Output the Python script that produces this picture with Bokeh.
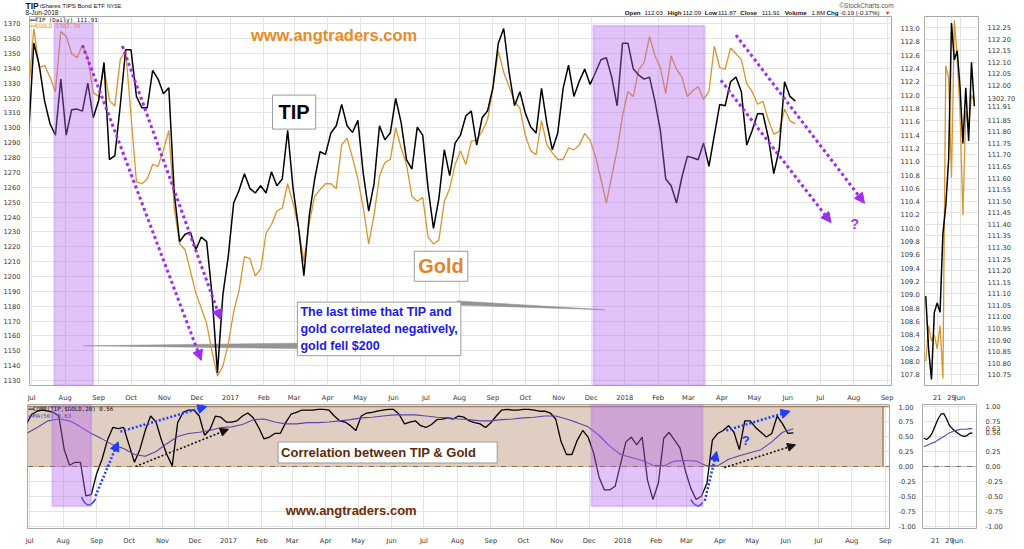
import pandas as pd
from bokeh.plotting import figure
from bokeh.models import (Range1d, LinearAxis, FixedTicker, BoxAnnotation, Label, Arrow,
                          NormalHead, Span, PrintfTickFormatter)
from bokeh.layouts import column, row
from bokeh.embed import file_html
from bokeh.resources import INLINE

# ---------------- data ----------------
START = "2016-06-28"          # first sample, then every 5 calendar days up to 8-Jun-2018
tip_close = [
    111.36, 112.78, 112.45, 111.91, 111.57, 111.40, 112.24, 111.40, 111.78, 111.79,
    111.76, 112.18, 111.66, 111.92, 112.49, 111.03, 111.09, 111.84, 112.68, 112.68,
    111.98, 111.81, 111.81, 112.37, 112.24, 112.02, 112.11, 110.53, 109.80, 109.91,
    109.94, 109.68, 109.87, 109.80, 109.00, 107.83, 109.00, 109.58, 110.38, 110.57,
    110.82, 110.60, 110.53, 110.64, 110.53, 110.85, 110.64, 110.74, 111.47, 110.60,
    110.02, 109.29, 110.19, 110.74, 111.15, 111.11, 111.43, 111.54, 111.86, 111.54,
    111.44, 111.62, 110.82, 110.26, 110.67, 111.54, 111.33, 111.43, 111.95, 111.59,
    111.03, 110.89, 111.52, 111.40, 110.60, 110.00, 110.45, 111.18, 110.79, 111.28,
    111.40, 111.69, 111.76, 111.25, 111.66, 111.76, 112.11, 112.78, 113.00, 112.34,
    111.84, 112.05, 111.73, 111.52, 111.43, 112.10, 111.57, 111.18, 111.43, 112.10,
    112.45, 111.98, 112.21, 112.39, 112.16, 112.34, 112.53, 112.56, 112.27, 111.84,
    112.78, 112.78, 112.39, 112.30, 112.24, 112.27, 111.91, 111.47, 110.74, 110.64,
    110.38, 110.77, 111.08, 111.06, 111.03, 111.28, 110.93, 111.40, 111.86, 111.84,
    112.20, 112.27, 112.05, 111.25, 111.47, 111.72, 111.72, 111.36, 110.82, 111.18,
    112.20, 111.98, 111.91]
gold_close = [
    1323.0, 1366.7, 1340.6, 1342.0, 1334.1, 1324.3, 1364.8, 1361.5, 1349.8, 1347.2,
    1355.6, 1347.2, 1323.7, 1321.1, 1340.6, 1318.5, 1314.6, 1345.9, 1352.4, 1308.0,
    1263.7, 1262.4, 1265.6, 1275.4, 1274.1, 1285.2, 1298.2, 1246.1, 1221.9, 1218.0,
    1203.7, 1188.7, 1178.9, 1168.4, 1149.5, 1133.0, 1139.7, 1154.7, 1176.3, 1190.6,
    1213.4, 1212.1, 1200.4, 1204.9, 1229.1, 1235.0, 1244.1, 1246.1, 1262.4, 1249.3,
    1233.0, 1210.2, 1236.3, 1253.9, 1258.5, 1262.4, 1262.4, 1259.1, 1288.5, 1293.0,
    1280.0, 1265.6, 1246.1, 1221.9, 1241.5, 1267.6, 1276.7, 1278.7, 1300.2, 1286.5,
    1275.4, 1253.9, 1250.6, 1253.2, 1226.5, 1221.9, 1224.5, 1250.6, 1259.1, 1275.4,
    1284.5, 1275.4, 1291.1, 1291.7, 1297.6, 1305.4, 1326.3, 1351.7, 1337.4, 1327.6,
    1317.8, 1313.2, 1295.0, 1284.5, 1281.9, 1304.8, 1288.5, 1283.2, 1278.7, 1278.7,
    1286.5, 1285.2, 1288.5, 1296.3, 1291.7, 1280.6, 1265.6, 1249.3, 1267.6, 1285.2,
    1308.0, 1324.3, 1321.1, 1339.3, 1343.9, 1361.5, 1348.5, 1340.6, 1323.0, 1348.5,
    1339.3, 1334.1, 1321.1, 1325.0, 1327.6, 1319.1, 1324.3, 1355.0, 1340.6, 1339.3,
    1353.7, 1349.8, 1345.9, 1329.6, 1324.3, 1315.9, 1317.8, 1305.4, 1295.6, 1297.6,
    1312.6, 1304.8, 1302.7]
corr_20 = [
    0.71, 0.87, 0.92, 0.94, 0.92, 0.90, 0.84, 0.28, 0.02, 0.07,
    0.07, -0.49, -0.47, -0.12, 0.12, 0.44, 0.65, 0.63, 0.65, 0.36,
    0.07, 0.28, 0.60, 0.84, 0.74, 0.44, 0.20, 0.01, 0.73, 0.90,
    0.94, 0.94, 0.84, 0.52, 0.62, 0.84, 0.82, 0.74, 0.74, 0.76,
    0.84, 0.89, 0.81, 0.65, 0.46, 0.49, 0.55, 0.55, 0.73, 0.87,
    0.90, 0.94, 0.94, 0.94, 0.95, 0.95, 0.94, 0.84, 0.76, 0.74,
    0.68, 0.60, 0.84, 0.89, 0.90, 0.92, 0.94, 0.95, 0.95, 0.87,
    0.71, 0.74, 0.76, 0.68, 0.65, 0.70, 0.78, 0.79, 0.81, 0.79,
    0.84, 0.82, 0.76, 0.73, 0.71, 0.65, 0.73, 0.84, 0.94, 0.95,
    0.94, 0.94, 0.95, 0.95, 0.94, 0.92, 0.92, 0.89, 0.79, 0.41,
    0.20, 0.20, 0.44, 0.60, 0.49, 0.23, -0.17, -0.39, -0.39, -0.33,
    0.04, 0.41, 0.49, 0.36, 0.49, -0.23, -0.55, -0.28, 0.47, 0.57,
    0.44, 0.31, -0.07, -0.36, -0.55, -0.49, -0.28, 0.44, 0.55, 0.60,
    0.68, 0.57, 0.28, 0.76, 0.76, 0.65, 0.57, 0.49, 0.55, 0.84,
    0.71, 0.55, 0.56]
ma_50 = [                      # every 10 calendar days from START
    0.55, 0.65, 0.76, 0.79, 0.76, 0.66, 0.55, 0.46, 0.36, 0.30,
    0.20, 0.17, 0.25, 0.38, 0.50, 0.55, 0.57, 0.60, 0.65, 0.66,
    0.70, 0.78, 0.79, 0.74, 0.71, 0.71, 0.73, 0.73, 0.74, 0.76,
    0.78, 0.81, 0.82, 0.84, 0.86, 0.86, 0.86, 0.84, 0.82, 0.81,
    0.79, 0.78, 0.76, 0.76, 0.78, 0.79, 0.81, 0.82, 0.84, 0.84,
    0.79, 0.73, 0.66, 0.52, 0.34, 0.20, 0.15, 0.10, 0.02, 0.01,
    0.09, 0.10, 0.09, 0.01, 0.01, 0.12, 0.18, 0.23, 0.28, 0.41,
    0.57, 0.63]

# last trading days (15-May-2018 .. 8-Jun-2018), small right-hand panels
recent_tip = [111.09, 110.86, 110.73, 111.02, 111.06, 111.02, 111.36, 111.48, 111.68,
              112.27, 112.11, 112.15, 111.99, 111.75, 111.99, 111.76, 112.10, 111.91]
recent_gold = [1286.0, 1288.3, 1287.3, 1287.7, 1286.8, 1288.3, 1284.9, 1305.0, 1304.2,
               1297.8, 1307.9, 1305.6, 1301.9, 1295.4, 1302.1, 1301.0, 1303.1, 1302.7]
recent_corr = [0.47, 0.45, 0.49, 0.56, 0.68, 0.79, 0.87, 0.88, 0.79,
               0.68, 0.63, 0.59, 0.55, 0.52, 0.50, 0.51, 0.55, 0.56]
recent_ma = [0.33, 0.35, 0.37, 0.39, 0.41, 0.44, 0.47, 0.50, 0.53,
             0.56, 0.58, 0.60, 0.61, 0.62, 0.62, 0.62, 0.63, 0.63]
recent_tick_labels = {4: "21", 9: "29", 12: "Jun"}

gold_ticks = list(range(1130, 1371, 10))
tip_ticks = [round(107.8 + 0.2 * i, 1) for i in range(27)]
corr_ticks = [round(-1 + 0.25 * i, 2) for i in range(9)]
recent_tip_ticks = [round(110.75 + 0.05 * i, 2) for i in range(31)]

# header texts: (text, bold)
quote_line = [("Open", True), ("112.03", False), ("High", True), ("112.09", False),
              ("Low", True), ("111.87", False), ("Close", True), ("111.91", False),
              ("Volume", True), ("1.8M", False), ("Chg", True), ("-0.19 (-0.17%)", False)]

assert len(tip_close) == len(gold_close) == len(corr_20) == 143

# ---------------- annotations ----------------
shades = [("2016-07-22", "2016-08-27", 1370.6), ("2017-12-03", "2018-03-16", 1368.7)]
shade_corr_bottom = -0.66
purple_arrows = [("2016-08-17", 1355.6, "2016-12-05", 1143.6),
                 ("2016-09-23", 1355.0, "2016-12-23", 1171.0),
                 ("2018-04-14", 1362.4, "2018-08-11", 1249.3),
                 ("2018-03-31", 1332.0, "2018-07-11", 1236.3)]
blue_arrows = [("2016-08-31", -0.49, "2016-09-21", 0.41),
               ("2016-09-23", 0.58, "2016-12-12", 1.0),
               ("2018-03-18", -0.57, "2018-03-29", 0.25),
               ("2018-04-07", 0.60, "2018-06-05", 0.92)]
black_arrows = [("2016-10-07", 0.0, "2017-01-01", 0.62),
                ("2018-04-05", -0.02, "2018-06-10", 0.36)]
smiles = [("2016-08-18", -0.51, "2016-08-31", -0.54, "2016-08-24", -0.755),
          ("2018-03-05", -0.547, "2018-03-16", -0.60, "2018-03-11", -0.733)]
pointers = [[("2016-08-18", 1153.4), ("2017-03-04", 1155.2), ("2017-03-04", 1151.6)],
            [("2017-12-14", 1177.6), ("2017-07-30", 1183.6), ("2017-07-30", 1180.8)]]
quote_x = [624.3, 644.0, 667.3, 682.2, 704.3, 717.6, 739.7, 761.3, 784.2, 810.9, 826.1, 839.5]


def ts(s):
    return float(pd.Timestamp(s).value // 10**6)


x5 = [ts(d) for d in pd.date_range(START, periods=len(tip_close), freq="5D")]
x10 = [ts(d) for d in pd.date_range(START, periods=len(ma_50), freq="10D")]
recent_x = list(range(len(recent_tip)))

month_starts = pd.date_range("2016-07-01", "2018-09-01", freq="MS")
month_ticks = [int(ts(d)) for d in month_starts]
month_labels = {int(ts(d)): (str(d.year) if d.month == 1 else d.strftime("%b")) for d in month_starts}

FONT = "DejaVu Sans"
BFONT = "Liberation Sans"
GRID = "#e3e3e3"
GOLD_C = "#D8952A"
TIP_C = "#000000"
MA_C = "#5a44b0"
PURPLE = "#9d2bf0"
BLUE = "#1f3cff"
TICK_SIZE = "6.7px"


def base_fig(**kw):
    p = figure(output_backend="svg", toolbar_location=None, **kw)
    p.outline_line_color = "#a8a8a8"
    p.background_fill_color = "white"
    p.border_fill_color = "white"
    p.xgrid.grid_line_color = GRID
    p.ygrid.grid_line_color = GRID
    return p


def style_axis(ax, standoff=3):
    ax.major_label_text_font = FONT
    ax.major_label_text_font_size = TICK_SIZE
    ax.major_label_text_color = "#333333"
    ax.axis_line_color = None
    ax.major_tick_line_color = None
    ax.minor_tick_line_color = None
    ax.major_label_standoff = standoff


def date_axis(p):
    ax = p.xaxis[0]
    ax.ticker = FixedTicker(ticks=month_ticks)
    ax.major_label_overrides = month_labels
    style_axis(ax, 2)
    p.xgrid.ticker = FixedTicker(ticks=month_ticks)


# ---------------- header strip ----------------
head = figure(width=1006, height=16, x_range=Range1d(0, 1006), y_range=Range1d(16, 0),
              output_backend="svg", toolbar_location=None, min_border=0)
head.axis.visible = False
head.grid.visible = False
head.outline_line_color = None
head.background_fill_color = "white"
head.border_fill_color = "white"


def htext(x, y, text, size="6.2px", bold=False, color="#111111", font=BFONT):
    head.add_layout(Label(x=x, y=y, text=text, text_font=font, text_font_size=size,
                          text_font_style="bold" if bold else "normal", text_color=color,
                          text_baseline="middle", text_align="left"))


htext(25, 5.0, "TIP", "8.5px", True)
htext(39.5, 5.2, "iShares TIPS Bond ETF", "6.1px")
htext(106.5, 5.4, "NYSE", "5.2px")
htext(25, 12.4, "8-Jun-2018", "6.5px")
htext(838.8, 4.8, "\u00a9StockCharts.com", "6.5px", color="#555555")
for xq, (txt, b) in zip(quote_x, quote_line):
    htext(xq, 12.4, txt, bold=b)
htext(885.5, 12.4, "\u25be", "6.5px", color="#c0392b", font=FONT)

xr = Range1d(ts("2016-06-29"), ts("2018-09-05"))

# ---------------- main price panel ----------------
main = base_fig(frame_width=862, frame_height=369, x_range=xr, y_range=Range1d(1126.7, 1374.9),
                min_border_left=27, min_border_right=31, min_border_top=0, min_border_bottom=11)
main.extra_y_ranges = {"tip": Range1d(107.64, 113.18)}
left_ax = main.yaxis[0]
left_ax.ticker = FixedTicker(ticks=gold_ticks)
left_ax.formatter = PrintfTickFormatter(format="%d")
style_axis(left_ax)
tip_ax = LinearAxis(y_range_name="tip", ticker=FixedTicker(ticks=tip_ticks),
                    formatter=PrintfTickFormatter(format="%.1f"))
style_axis(tip_ax)
main.add_layout(tip_ax, "right")
main.ygrid.ticker = FixedTicker(ticks=gold_ticks)
date_axis(main)

# callout pointers (under the box)
main.patches([[ts(a) for a, _ in pt] for pt in pointers], [[b for _, b in pt] for pt in pointers],
             fill_color="#8a8a8a", line_color="#8a8a8a", line_width=0.5, fill_alpha=0.9)

main.line(x5, gold_close, line_color=GOLD_C, line_width=1.3)
main.line(x5, tip_close, y_range_name="tip", line_color=TIP_C, line_width=1.5)

for l, r, top in shades:
    main.add_layout(BoxAnnotation(left=ts(l), right=ts(r), top=top, fill_color="#b366f0",
                                  fill_alpha=0.4, line_color="#b070f0", line_width=2))

for x0, y0, x1, y1 in purple_arrows:
    main.add_layout(Arrow(x_start=ts(x0), y_start=y0, x_end=ts(x1), y_end=y1,
                          line_color=PURPLE, line_width=3, line_dash="3 3",
                          end=NormalHead(size=10, fill_color=PURPLE, line_color=PURPLE)))

# legend texts
main.add_layout(Label(x=ts("2016-06-29"), y=1372.3, text="—", text_font=FONT, text_font_size="7px",
                      text_font_style="bold", text_color=TIP_C, text_baseline="middle"))
main.add_layout(Label(x=ts("2016-07-04"), y=1372.3, text="TIP (Daily) 111.91", text_font="DejaVu Sans Mono",
                      text_font_size="5.8px", text_color="#111111", text_baseline="middle"))
main.add_layout(Label(x=ts("2016-06-29"), y=1368.2, text="—", text_font=FONT, text_font_size="7px",
                      text_font_style="bold", text_color=GOLD_C, text_baseline="middle"))
main.add_layout(Label(x=ts("2016-07-04"), y=1368.2, text="$GOLD 1302.70", text_font="DejaVu Sans Mono",
                      text_font_size="5.8px", text_color=GOLD_C, text_baseline="middle"))

main.add_layout(Label(x=ts("2017-01-20"), y=1362.2, text="www.angtraders.com", text_font=BFONT,
                      text_font_size="16.5px", text_font_style="bold", text_color="#E68C28",
                      text_baseline="middle", text_align="left"))


def boxed(p, x, y, text, color, size, align="center", baseline="middle", pad=5):
    p.add_layout(Label(x=x, y=y, text=text, text_font=BFONT, text_font_size=size,
                       text_font_style="bold", text_alpha=0, text_align=align, text_baseline=baseline,
                       background_fill_color="#b5b5b5", padding=pad, x_offset=2, y_offset=-2))
    p.add_layout(Label(x=x, y=y, text=text, text_font=BFONT, text_font_size=size,
                       text_font_style="bold", text_color=color, text_align=align, text_baseline=baseline,
                       background_fill_color="white", border_line_color="#9a9a9a", border_line_width=1,
                       padding=pad))


boxed(main, ts("2017-03-01"), 1310.6, "TIP", "#000000", "20px", pad=6)
boxed(main, ts("2017-07-15"), 1206.9, "Gold", "#E0862A", "20px", pad=4)
boxed(main, ts("2017-03-04"), 1182.8,
      "The last time that TIP and\ngold correlated negatively,\ngold fell $200",
      "#1a1aee", "12.5px", align="left", baseline="top", pad=3)
main.add_layout(Label(x=ts("2018-08-02"), y=1235.6, text="?", text_font=BFONT, text_font_size="14px",
                      text_font_style="bold", text_color="#a43cf0", text_align="center",
                      text_baseline="middle"))

# ---------------- correlation panel ----------------
lower = base_fig(frame_width=862, frame_height=124, x_range=xr, y_range=Range1d(-1.032, 1.032),
                 y_axis_location="right", min_border_left=27, min_border_right=31,
                 min_border_top=0, min_border_bottom=12)
cax = lower.yaxis[0]
cax.ticker = FixedTicker(ticks=corr_ticks)
cax.formatter = PrintfTickFormatter(format="%.2f")
style_axis(cax)
lower.ygrid.ticker = FixedTicker(ticks=corr_ticks)
date_axis(lower)

band_right = ts("2018-08-30")
lower.add_layout(BoxAnnotation(right=band_right, bottom=0, top=1.0, fill_color="#e0cec2",
                               fill_alpha=1, line_color=None, level="underlay"))
lower.add_layout(Span(location=1.0, dimension="width", line_color="#a37f60", line_width=1.5))
lower.add_layout(Span(location=0.0, dimension="width", line_color="#8b6b4a", line_width=1.2,
                      line_dash="6 2 1 2"))
lower.segment(x0=[band_right], y0=[0.0], x1=[band_right], y1=[1.0], line_color="#a37f60", line_width=1.5)

lower.line(x5, corr_20, line_color=TIP_C, line_width=1.3)
lower.line(x10, ma_50, line_color=MA_C, line_width=1.1)

for l, r, _ in shades:
    lower.add_layout(BoxAnnotation(left=ts(l), right=ts(r), bottom=shade_corr_bottom,
                                   fill_color="#b366f0", fill_alpha=0.4, line_color="#b070f0",
                                   line_width=2))

lower.quadratic(x0=[ts(s[0]) for s in smiles], y0=[s[1] for s in smiles],
                x1=[ts(s[2]) for s in smiles], y1=[s[3] for s in smiles],
                cx=[ts(s[4]) for s in smiles], cy=[s[5] for s in smiles],
                line_color=BLUE, line_width=1.6)
for x0, y0, x1, y1 in blue_arrows:
    lower.add_layout(Arrow(x_start=ts(x0), y_start=y0, x_end=ts(x1), y_end=y1,
                           line_color=BLUE, line_width=2.5, line_dash="2 2",
                           end=NormalHead(size=9, fill_color=BLUE, line_color=BLUE)))
for x0, y0, x1, y1 in black_arrows:
    lower.add_layout(Arrow(x_start=ts(x0), y_start=y0, x_end=ts(x1), y_end=y1,
                           line_color="#111111", line_width=1.6, line_dash="2 2",
                           end=NormalHead(size=8, fill_color="#111111", line_color="#111111")))

lower.add_layout(Label(x=ts("2016-06-29"), y=0.955, text="—", text_font=FONT, text_font_size="7px",
                       text_font_style="bold", text_color=TIP_C, text_baseline="middle"))
lower.add_layout(Label(x=ts("2016-07-04"), y=0.955, text="CORR(TIP,$GOLD,20) 0.56", text_font="DejaVu Sans Mono",
                       text_font_size="5.8px", text_color="#111111", text_baseline="middle"))
lower.add_layout(Label(x=ts("2016-06-29"), y=0.845, text="—", text_font=FONT, text_font_size="7px",
                       text_font_style="bold", text_color=MA_C, text_baseline="middle"))
lower.add_layout(Label(x=ts("2016-07-04"), y=0.845, text="MA(50) 0.63", text_font="DejaVu Sans Mono",
                       text_font_size="5.8px", text_color=MA_C, text_baseline="middle"))

lower.add_layout(Label(x=ts("2017-02-16"), y=0.408, text="Correlation between TIP & Gold\u00a0\u00a0\u00a0\u00a0\u00a0",
                       text_font=BFONT, text_font_size="13px", text_font_style="bold",
                       text_color="#5e2a05", text_align="left", text_baseline="top",
                       background_fill_color="white", border_line_color="#9a9a9a", padding=3))
lower.add_layout(Label(x=ts("2017-02-23"), y=-0.728, text="www.angtraders.com", text_font=BFONT,
                       text_font_size="13px", text_font_style="bold", text_color="#6e2c05",
                       text_align="left", text_baseline="middle"))
lower.add_layout(Label(x=ts("2018-04-25"), y=0.44, text="?", text_font=BFONT, text_font_size="13px",
                       text_font_style="bold", text_color=BLUE, text_align="center",
                       text_baseline="middle"))

# ---------------- small recent panels ----------------
sxr = Range1d(-0.44, 18.45)


def small_x(p):
    ax = p.xaxis[0]
    ax.ticker = FixedTicker(ticks=list(recent_tick_labels))
    ax.major_label_overrides = recent_tick_labels
    style_axis(ax, 2)
    p.xgrid.ticker = FixedTicker(ticks=list(recent_tick_labels))


# last-value tags shown on the small panels' axes
tip_tag = recent_tip[-1]
gold_tag_pos = 111.945
small_axis_ticks = [t for t in recent_tip_ticks if t not in (111.90, 111.95)] + [tip_tag, gold_tag_pos]
small_axis_labels = {gold_tag_pos: f"{recent_gold[-1]:.2f}"}

small = base_fig(frame_width=54, frame_height=369, x_range=sxr, y_range=Range1d(110.704, 112.298),
                 y_axis_location="right", min_border_left=2, min_border_right=30,
                 min_border_top=0, min_border_bottom=11)
small.extra_y_ranges = {"gold": Range1d(1284.45, 1308.15)}
sax = small.yaxis[0]
sax.ticker = FixedTicker(ticks=small_axis_ticks)
sax.formatter = PrintfTickFormatter(format="%.2f")
sax.major_label_overrides = small_axis_labels
style_axis(sax)
small.ygrid.ticker = FixedTicker(ticks=recent_tip_ticks)
small_x(small)
small.line(recent_x, recent_gold, y_range_name="gold", line_color=GOLD_C, line_width=1.3)
small.line(recent_x, recent_tip, line_color=TIP_C, line_width=1.5)

small_corr_ticks = [t for t in corr_ticks if t != 0.5] + [recent_corr[-1], recent_ma[-1]]
small_c = base_fig(frame_width=54, frame_height=124, x_range=sxr, y_range=Range1d(-1.032, 1.032),
                   y_axis_location="right", min_border_left=2, min_border_right=30,
                   min_border_top=0, min_border_bottom=12)
scax = small_c.yaxis[0]
scax.ticker = FixedTicker(ticks=small_corr_ticks)
scax.formatter = PrintfTickFormatter(format="%.2f")
style_axis(scax)
small_c.ygrid.ticker = FixedTicker(ticks=corr_ticks)
small_x(small_c)
small_c.add_layout(Span(location=0.0, dimension="width", line_color="#777777", line_width=1,
                        line_dash="6 2 1 2"))
small_c.line(recent_x, recent_corr, line_color=TIP_C, line_width=1.3)
small_c.line(recent_x, recent_ma, line_color=MA_C, line_width=1.1)

layout = column(head, row(main, small), row(lower, small_c))
open("out.html", "w").write(file_html(layout, INLINE))
